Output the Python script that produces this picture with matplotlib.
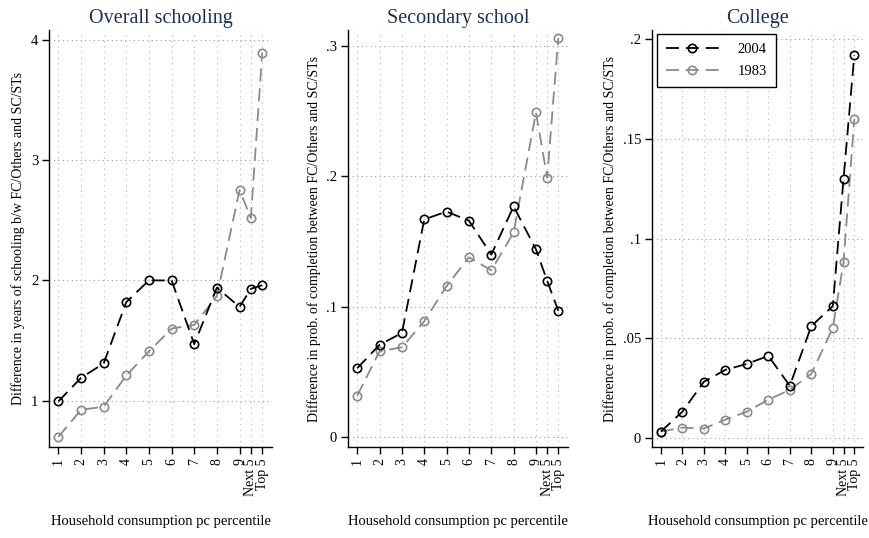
from matplotlib import pyplot as plt
import numpy as np

plt.rcParams['font.family'] = ['Liberation Serif', 'DejaVu Serif']

# x positions: deciles 1-9, then 90-95 and 95-100 percentile groups
xpos = [1, 2, 3, 4, 5, 6, 7, 8, 9, 9.5, 10]
xlabels = ["1", "2", "3", "4", "5", "6", "7", "8", "9", "Next 5", "Top 5"]

overall_2004 = [0.995, 1.19, 1.31, 1.82, 2.00, 2.00, 1.47, 1.94, 1.78, 1.93, 1.96]
overall_1983 = [0.70, 0.925, 0.95, 1.21, 1.41, 1.60, 1.63, 1.87, 2.75, 2.52, 3.89]

secondary_2004 = [0.053, 0.071, 0.080, 0.167, 0.173, 0.166, 0.140, 0.177, 0.144, 0.120, 0.097]
secondary_1983 = [0.032, 0.066, 0.069, 0.089, 0.116, 0.138, 0.128, 0.157, 0.249, 0.199, 0.306]

college_2004 = [0.003, 0.013, 0.028, 0.034, 0.037, 0.041, 0.026, 0.056, 0.066, 0.130, 0.192]
college_1983 = [0.003, 0.005, 0.0045, 0.009, 0.013, 0.019, 0.024, 0.032, 0.055, 0.088, 0.160]

titles = ["Overall schooling", "Secondary school", "College"]
ylabels = ["Difference in years of schooling b/w FC/Others and SC/STs",
           "Difference in prob. of completion between FC/Others and SC/STs",
           "Difference in prob. of completion between FC/Others and SC/STs"]
yticks = [[1, 2, 3, 4], [0, 0.1, 0.2, 0.3], [0, 0.05, 0.1, 0.15, 0.2]]
yticklabels = [["1", "2", "3", "4"], ["0", ".1", ".2", ".3"],
               ["0", ".05", ".1", ".15", ".2"]]
ylims = [(0.615, 4.08), (-0.0074, 0.312), (-0.0048, 0.2047)]
series = [(overall_2004, overall_1983), (secondary_2004, secondary_1983),
          (college_2004, college_1983)]

titlecolor = "#1f2d5c"
gray = "#8a8a8a"

fig = plt.figure(figsize=(8.69, 5.38), dpi=100)
# axes boxes in pixels (left, right)
boxes = [(49.3, 271.7), (348.3, 567.7), (652.3, 863.3)]
bottom = 0.169
height = 0.775

for i in range(3):
    l, r = boxes[i]
    ax = fig.add_axes([l / 869, bottom, (r - l) / 869, height])
    y04, y83 = series[i]
    ax.plot(xpos, y04, color="black", lw=1.3, dashes=(7.2, 3.8),
            marker="o", ms=6, mfc="none", mec="black", mew=1.2, label="2004", zorder=4)
    ax.plot(xpos, y83, color=gray, lw=1.3, dashes=(7.2, 3.8),
            marker="o", ms=6, mfc="none", mec=gray, mew=1.2, label="1983", zorder=3)

    ax.set_xlim(0.6, 10.42)
    ax.set_ylim(*ylims[i])
    ax.set_xticks(xpos)
    ax.set_xticklabels(xlabels, rotation=90, fontsize=10, va="top", ha="center",
                       linespacing=0.9)
    ax.set_yticks(yticks[i])
    ax.set_yticklabels(yticklabels[i], fontsize=10.5)

    # grid lines
    for yv in yticks[i]:
        ax.axhline(yv, color="#9a9a9a", lw=0.8, ls=(0, (1, 3)), zorder=1)
    for xv in xpos:
        ax.axvline(xv, color="#b5b5b5", lw=0.8, ls=(0, (1, 4)), zorder=1)

    ax.spines["top"].set_visible(False)
    ax.spines["right"].set_visible(False)
    ax.spines["left"].set_linewidth(1.0)
    ax.spines["bottom"].set_linewidth(1.0)
    ax.tick_params(direction="out", length=5, width=1.0, pad=3)

    ax.set_title(titles[i], fontsize=14.5, color=titlecolor, pad=5)
    ax.set_ylabel(ylabels[i], fontsize=10)
    ax.set_xlabel("Household consumption pc percentile", fontsize=10.5, labelpad=14)

    if i == 2:
        leg = ax.legend(loc="upper left", fontsize=10.5, handlelength=3.6,
                        handletextpad=1.3, borderpad=0.6, labelspacing=0.6,
                        borderaxespad=0, fancybox=False, edgecolor="black",
                        framealpha=1, bbox_to_anchor=(0.024, 0.99))
        leg.get_frame().set_linewidth(1.0)

fig.savefig("out.png", dpi=100)
